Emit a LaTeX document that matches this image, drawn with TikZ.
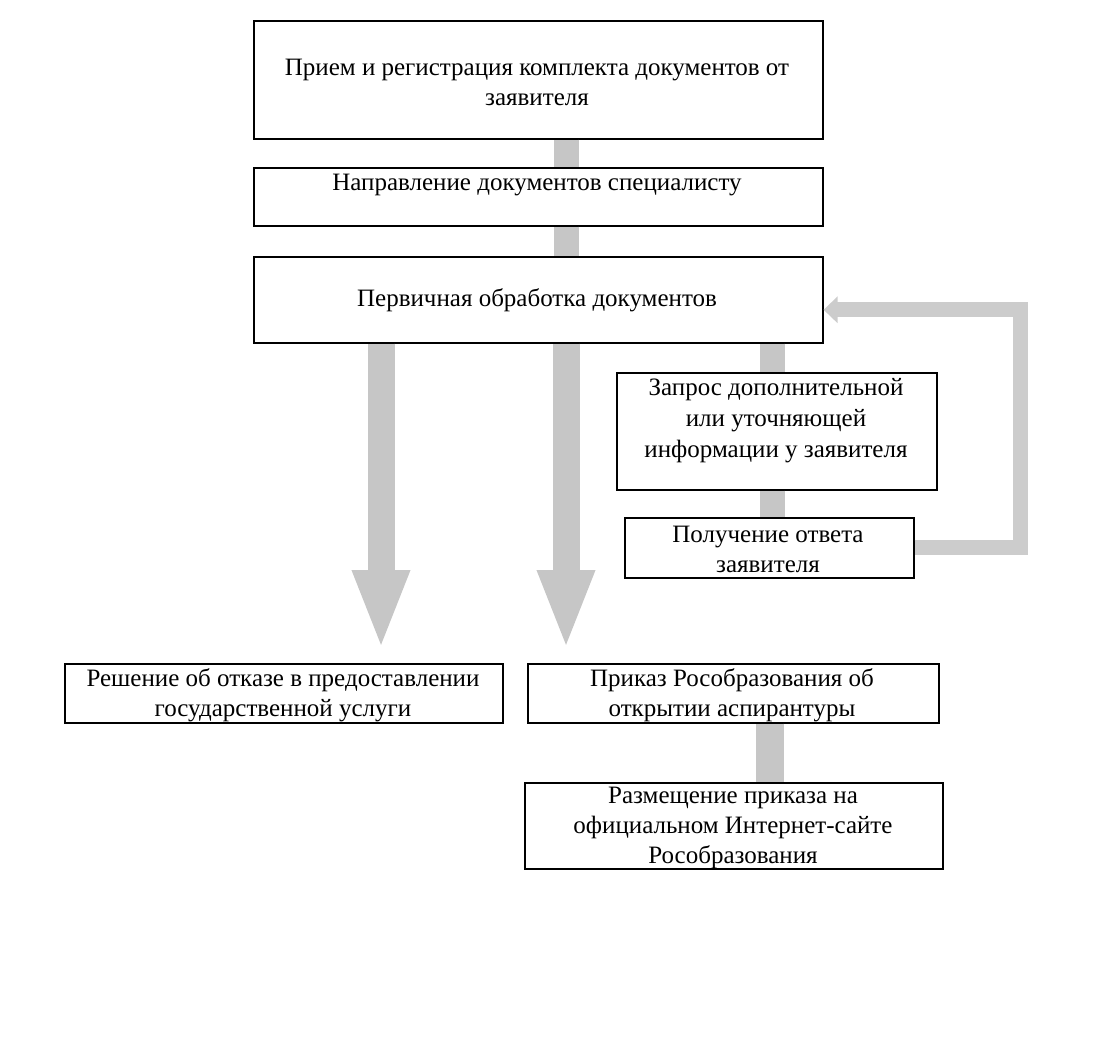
\documentclass[tikz,border=0pt]{standalone}
\usepackage{fontspec}
\setmainfont{Liberation Serif}
\usetikzlibrary{arrows.meta}
\begin{document}
\begin{tikzpicture}[x=1pt,y=-1pt,
  boxst/.style={draw=black,line width=1.6pt,inner sep=0pt,anchor=north west},
  txt/.style={font=\fontsize{25}{30}\selectfont,align=center,inner sep=0pt},
  bar/.style={draw=gray!45,line width=25pt},
  bigarrow/.style={draw=gray!45,line width=27pt,-{Triangle[width=52pt,length=80pt]},shorten >=13pt},
  looparrow/.style={draw=gray!40,line width=15pt,line join=miter,-{Triangle[width=26pt,length=14pt]}}]
\useasboundingbox (0,0) rectangle (1110,1050);
% boxes
\node[boxst,minimum width=569pt,minimum height=118pt] (A) at (253,20) {};
\node[boxst,minimum width=569pt,minimum height=58pt] (B) at (253,167) {};
\node[boxst,minimum width=569pt,minimum height=86pt] (C) at (253,256) {};
\node[boxst,minimum width=320pt,minimum height=117pt] (D) at (616,372) {};
\node[boxst,minimum width=289pt,minimum height=60pt] (E) at (624,517) {};
\node[boxst,minimum width=438pt,minimum height=59pt] (F) at (64,663) {};
\node[boxst,minimum width=411pt,minimum height=59pt] (G) at (527,663) {};
\node[boxst,minimum width=418pt,minimum height=86pt] (H) at (524,782) {};
% connectors
\draw[bar] (A.south -| 566,0) -- (B.north -| 566,0);
\draw[bar] (B.south -| 566,0) -- (C.north -| 566,0);
\draw[bar] (C.south -| 772,0) -- (D.north -| 772,0);
\draw[bar] (D.south -| 772,0) -- (E.north -| 772,0);
\draw[bar,line width=28pt] (G.south -| 770,0) -- (H.north -| 770,0);
\draw[bigarrow] (C.south -| 381,0) -- (F.north -| 381,0);
\draw[bigarrow] (C.south -| 566,0) -- (G.north -| 566,0);
\draw[looparrow] ([yshift=0pt]E.east) -- ++(106,0) |- ([yshift=-10pt]C.east);
% texts
\node[txt] (tA) at (537,82) {Прием и регистрация комплекта документов от\\заявителя};
\node[txt] (tB) at (537,185) {Направление документов специалисту};
\node[txt] (tC) at (537,300) {Первичная обработка документов};
\node[txt,font=\fontsize{25}{31}\selectfont] (tD) at (776,421) {Запрос дополнительной\\или уточняющей\\информации у заявителя};
\node[txt] (tE) at (768,549) {Получение ответа\\заявителя};
\node[txt] (tF) at (283,695) {Решение об отказе в предоставлении\\государственной услуги};
\node[txt] (tG) at (732,695) {Приказ Рособразования об\\открытии аспирантуры};
\node[txt] (tH) at (733,828) {Размещение приказа на\\официальном Интернет-сайте\\Рособразования};
\end{tikzpicture}
\end{document}
